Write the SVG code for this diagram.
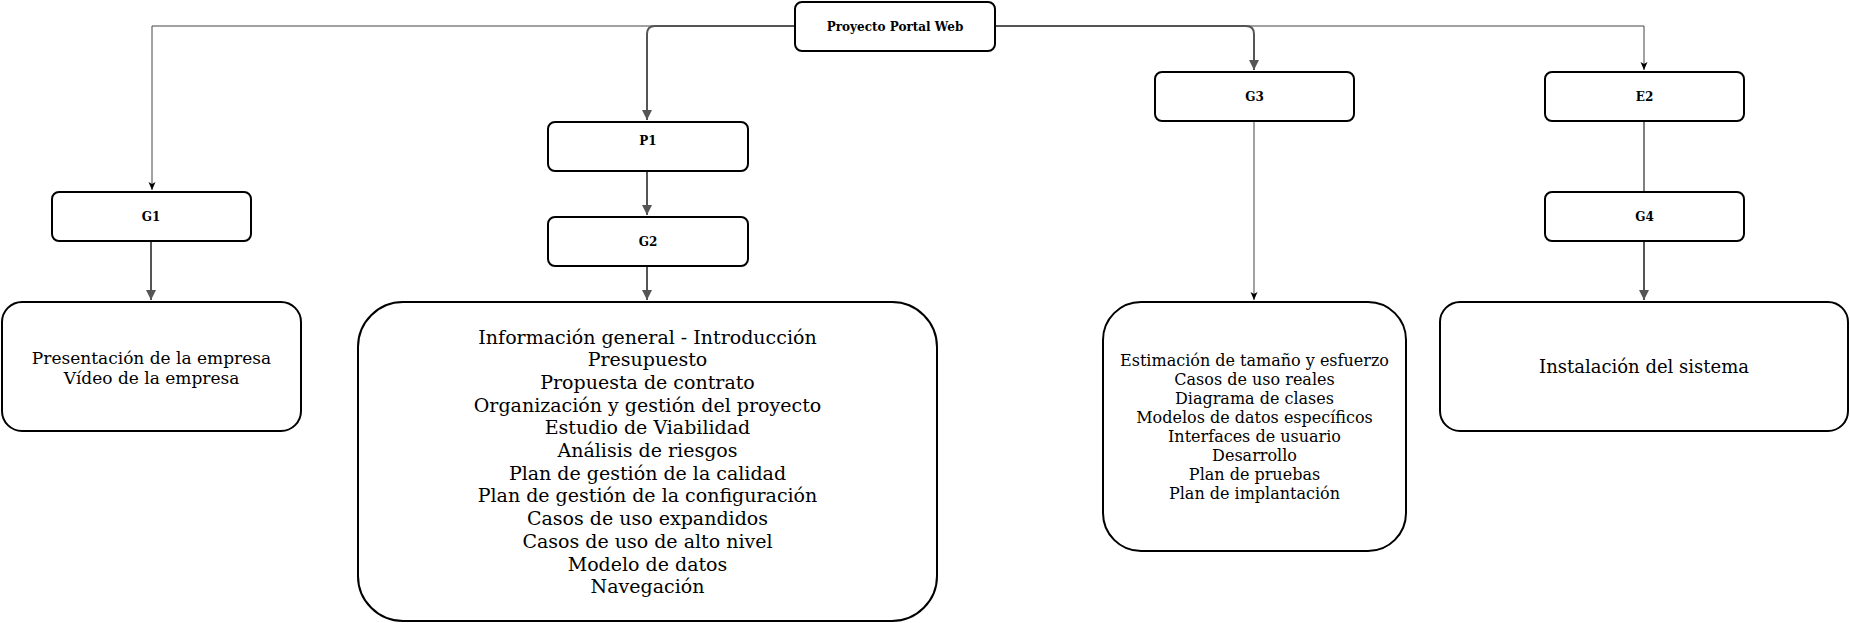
<svg xmlns="http://www.w3.org/2000/svg" width="1850" height="623" viewBox="0 0 1850 623">
<style>
.box{fill:#fff;stroke:#000;stroke-width:2}
.lbl{font-family:"DejaVu Serif",serif;font-weight:bold;font-size:12px;text-anchor:middle;dominant-baseline:central;fill:#000}
.txt{font-family:"DejaVu Serif",serif;text-anchor:middle;fill:#000}
.thin{fill:none;stroke:#444;stroke-width:1}
.thick{fill:none;stroke:#555;stroke-width:2}
</style>
<defs>
<marker id="big" markerWidth="10" markerHeight="12" refX="10" refY="5" orient="auto" markerUnits="userSpaceOnUse" viewBox="0 0 10 10">
<path d="M0,0 L10,5 L0,10 Z" fill="#555"/>
</marker>
<marker id="small" markerWidth="8" markerHeight="8" refX="8" refY="4" orient="auto" markerUnits="userSpaceOnUse" viewBox="0 0 8 8">
<path d="M0,0.5 L8,4 L0,7.5 L2,4 Z" fill="#000"/>
</marker>
</defs>
<g id="connectors">
<path class="thin" d="M794,26 H152 V190" marker-end="url(#small)"/>
<path class="thin" d="M995,26 H1644 V70" marker-end="url(#small)"/>
<path class="thick" d="M794,26 H655 Q647,26 647,34 V120" marker-end="url(#big)"/>
<path class="thick" d="M995,26 H1246 Q1254,26 1254,34 V70" marker-end="url(#big)"/>
<path class="thick" d="M647,172 V215" marker-end="url(#big)"/>
<path class="thick" d="M151,241 V300" marker-end="url(#big)"/>
<path class="thick" d="M647,266 V300" marker-end="url(#big)"/>
<path class="thin" d="M1254,122 V300" marker-end="url(#small)"/>
<path class="thick" d="M1644,122 V191" style="stroke-width:1.5"/>
<path class="thick" d="M1644,241 V300" marker-end="url(#big)"/>
</g>
<g id="root">
<rect class="box" x="795" y="2" width="200" height="49" rx="7"/>
<text class="lbl" x="895" y="27">Proyecto Portal Web</text>
</g>
<g id="P1">
<rect class="box" x="548" y="122" width="200" height="49" rx="7"/>
<text class="lbl" x="648" y="141">P1</text>
</g>
<g id="G2">
<rect class="box" x="548" y="217" width="200" height="49" rx="7"/>
<text class="lbl" x="648" y="242">G2</text>
</g>
<g id="G1">
<rect class="box" x="52" y="192" width="199" height="49" rx="7"/>
<text class="lbl" x="151" y="217">G1</text>
</g>
<g id="G3">
<rect class="box" x="1155" y="72" width="199" height="49" rx="7"/>
<text class="lbl" x="1254.5" y="97">G3</text>
</g>
<g id="E2">
<rect class="box" x="1545" y="72" width="199" height="49" rx="7"/>
<text class="lbl" x="1644.5" y="97">E2</text>
</g>
<g id="G4">
<rect class="box" x="1545" y="192" width="199" height="49" rx="7"/>
<text class="lbl" x="1644.5" y="217">G4</text>
</g>
<g id="box1">
<rect class="box" x="2" y="302" width="299" height="129" rx="20"/>
<text class="txt" font-size="17" x="151.5" y="363.5">Presentación de la empresa</text>
<text class="txt" font-size="17" x="151.5" y="383.5">Vídeo de la empresa</text>
</g>
<g id="box2">
<rect class="box" x="358" y="302" width="579" height="319" rx="45"/>
<g class="txt" font-size="19">
<text x="647.5" y="343.5">Información general - Introducción</text>
<text x="647.5" y="366.2">Presupuesto</text>
<text x="647.5" y="388.9">Propuesta de contrato</text>
<text x="647.5" y="411.6">Organización y gestión del proyecto</text>
<text x="647.5" y="434.3">Estudio de Viabilidad</text>
<text x="647.5" y="457">Análisis de riesgos</text>
<text x="647.5" y="479.7">Plan de gestión de la calidad</text>
<text x="647.5" y="502.4">Plan de gestión de la configuración</text>
<text x="647.5" y="525.1">Casos de uso expandidos</text>
<text x="647.5" y="547.8">Casos de uso de alto nivel</text>
<text x="647.5" y="570.5">Modelo de datos</text>
<text x="647.5" y="593.2">Navegación</text>
</g>
</g>
<g id="box3">
<rect class="box" x="1103" y="302" width="303" height="249" rx="38"/>
<g class="txt" font-size="16">
<text x="1254.5" y="365.5">Estimación de tamaño y esfuerzo</text>
<text x="1254.5" y="384.5">Casos de uso reales</text>
<text x="1254.5" y="403.6">Diagrama de clases</text>
<text x="1254.5" y="422.6">Modelos de datos específicos</text>
<text x="1254.5" y="441.7">Interfaces de usuario</text>
<text x="1254.5" y="460.7">Desarrollo</text>
<text x="1254.5" y="479.8">Plan de pruebas</text>
<text x="1254.5" y="498.8">Plan de implantación</text>
</g>
</g>
<g id="box4">
<rect class="box" x="1440" y="302" width="408" height="129" rx="20"/>
<text class="txt" font-size="18" x="1644" y="373">Instalación del sistema</text>
</g>
</svg>
